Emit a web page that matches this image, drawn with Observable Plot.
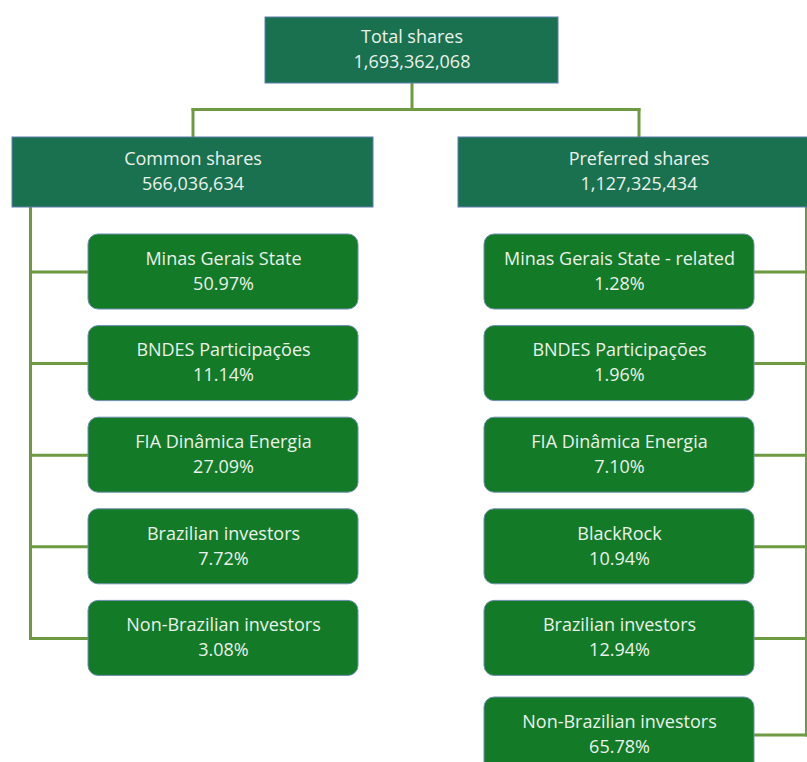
<!DOCTYPE html>
<html>
<head>
<meta charset="utf-8">
<script src="https://cdn.jsdelivr.net/npm/d3@7"></script>
<script src="https://cdn.jsdelivr.net/npm/@observablehq/plot@0.6"></script>
<style>
  html, body { margin: 0; padding: 0; background: #ffffff; }
  #chart svg { display: block; }
</style>
</head>
<body>
<div id="chart"></div>
<script>
// ---- Data ----
const totalLabel = "Total shares";
const totalShares = 1693362068;

const groupLabels = ["Common shares", "Preferred shares"];
const groupShares = [566036634, 1127325434];

const commonHolders = ["Minas Gerais State", "BNDES Participações", "FIA Dinâmica Energia", "Brazilian investors", "Non-Brazilian investors"];
const commonPct = [50.97, 11.14, 27.09, 7.72, 3.08];

const preferredHolders = ["Minas Gerais State - related", "BNDES Participações", "FIA Dinâmica Energia", "BlackRock", "Brazilian investors", "Non-Brazilian investors"];
const preferredPct = [1.28, 1.96, 7.10, 10.94, 12.94, 65.78];

// ---- Layout (code, not data) ----
const W = 807, H = 762;
const fmtInt = d3.format(",");
const fmtPct = v => v.toFixed(2) + "%";

const rootBox = {x1: 265, x2: 558, y1: 17, y2: 83};
const grpW = 361, grpY1 = 137, grpY2 = 207;
const grpX1 = [12, 458];
const childX1 = [88, 484], childW = 270, childH = 75;
const childTop = i => 234 + i * 91.6 + (i === 5 ? 5 : 0);
const trunkX = [30, 806];
const busY = 109;

const headBoxes = [];
headBoxes.push({...rootBox, l1: totalLabel, l2: fmtInt(totalShares)});
groupLabels.forEach((g, k) => headBoxes.push({x1: grpX1[k], x2: grpX1[k] + grpW, y1: grpY1, y2: grpY2, l1: g, l2: fmtInt(groupShares[k])}));

const childBoxes = [];
[[commonHolders, commonPct], [preferredHolders, preferredPct]].forEach(([names, pcts], k) => {
  names.forEach((n, i) => {
    const y1 = childTop(i);
    childBoxes.push({k, x1: childX1[k], x2: childX1[k] + childW, y1, y2: y1 + childH, l1: n, l2: fmtPct(pcts[i])});
  });
});

// connectors
const segs = [];
const rootCx = (rootBox.x1 + rootBox.x2) / 2;
const grpCx = grpX1.map(x => x + grpW / 2);
segs.push({x1: rootCx, y1: rootBox.y2, x2: rootCx, y2: busY});
segs.push({x1: grpCx[0], y1: busY, x2: grpCx[1], y2: busY});
grpCx.forEach(cx => segs.push({x1: cx, y1: busY, x2: cx, y2: grpY1}));
[0, 1].forEach(k => {
  const kids = childBoxes.filter(c => c.k === k);
  const last = kids[kids.length - 1];
  const lastCy = (last.y1 + last.y2) / 2;
  segs.push({x1: trunkX[k], y1: grpY2, x2: trunkX[k], y2: lastCy});
  kids.forEach(c => {
    const cy = (c.y1 + c.y2) / 2;
    segs.push({x1: trunkX[k], y1: cy, x2: k === 0 ? c.x1 : c.x2, y2: cy});
  });
});

const allBoxes = headBoxes.concat(childBoxes);
const font = "'Open Sans', Lato, sans-serif";

const chart = Plot.plot({
  width: W,
  height: H,
  margin: 0,
  x: {domain: [0, W], range: [0, W], axis: null},
  y: {domain: [0, H], range: [0, H], axis: null},
  style: {fontFamily: font, background: "#ffffff"},
  marks: [
    Plot.link(segs, {x1: "x1", y1: "y1", x2: "x2", y2: "y2", stroke: "#6e9a41", strokeWidth: 3, strokeLinecap: "square"}),
    Plot.rect(headBoxes, {x1: "x1", x2: "x2", y1: "y1", y2: "y2", fill: "#1a714f", stroke: "#5a7fae", strokeWidth: 1}),
    Plot.rect(childBoxes, {x1: "x1", x2: "x2", y1: "y1", y2: "y2", fill: "#137a28", stroke: "#6f8fae", strokeWidth: 1, rx: 10}),
    Plot.text(allBoxes, {x: d => (d.x1 + d.x2) / 2, y: d => (d.y1 + d.y2) / 2 - 13, text: "l1", fill: "#eaf1ea", fontSize: 18, fontFamily: font}),
    Plot.text(allBoxes, {x: d => (d.x1 + d.x2) / 2, y: d => (d.y1 + d.y2) / 2 + 12, text: "l2", fill: "#eaf1ea", fontSize: 18, fontFamily: font})
  ]
});
document.getElementById("chart").appendChild(chart);
</script>
</body>
</html>
